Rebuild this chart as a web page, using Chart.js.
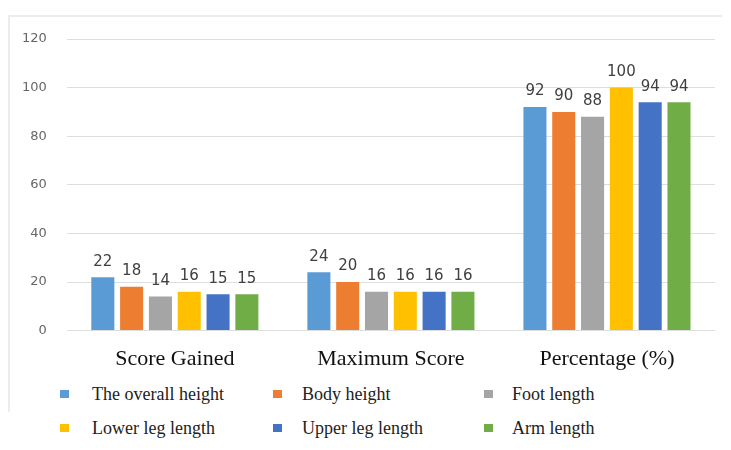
<!DOCTYPE html>
<html lang="en">

<head>
    <meta charset="UTF-8">
    <title>Score chart</title>
    <script src="https://cdn.jsdelivr.net/npm/chart.js"></script>
    <style>
        body {
            margin: 0;
            padding: 0;
            background-color: white;
            width: 731px;
            height: 450px;
            position: relative;
            overflow: hidden;
        }

        .frame {
            position: absolute;
            left: 8px;
            top: 15px;
            width: 712px;
            height: 395px;
            border-top: 2px solid #ececec;
            border-left: 2px solid #ececec;
        }

        .chart {
            position: absolute;
            left: 0;
            top: 0;
            width: 731px;
            height: 379px;
        }

        #legend {
            position: absolute;
            left: 0;
            top: 383px;
            width: 731px;
            font-family: "Liberation Serif", serif;
            font-size: 18px;
            line-height: 22px;
            color: #222;
        }

        #legend .item {
            position: absolute;
            display: flex;
            align-items: center;
            white-space: nowrap;
        }

        #legend .box {
            width: 9px;
            height: 8px;
        }

        #legend .txt {
            position: absolute;
            white-space: nowrap;
        }
    </style>
</head>

<body>
    <div class="frame"></div>
    <div class="chart"><canvas id="myChart"></canvas></div>
    <div id="legend"></div>

    <script>
        // data
        const categories = ['Score Gained', 'Maximum Score', 'Percentage (%)'];
        const seriesNames = ['The overall height', 'Body height', 'Foot length',
            'Lower leg length', 'Upper leg length', 'Arm length'];
        const overallHeight = [22, 24, 92];
        const bodyHeight = [18, 20, 90];
        const footLength = [14, 16, 88];
        const lowerLeg = [16, 16, 100];
        const upperLeg = [15, 16, 94];
        const armLength = [15, 16, 94];
        const yTicks = [0, 20, 40, 60, 80, 100, 120];

        const colors = ['#5B9BD5', '#ED7D31', '#A5A5A5', '#FFC000', '#4472C4', '#70AD47'];
        const allSeries = [overallHeight, bodyHeight, footLength, lowerLeg, upperLeg, armLength];

        // draw value above each bar
        const valueLabels = {
            id: 'valueLabels',
            afterDatasetsDraw(chart) {
                const ctx = chart.ctx;
                ctx.save();
                ctx.font = '15px "DejaVu Sans", sans-serif';
                ctx.fillStyle = '#404040';
                ctx.textAlign = 'center';
                ctx.textBaseline = 'bottom';
                chart.data.datasets.forEach((ds, i) => {
                    chart.getDatasetMeta(i).data.forEach((bar, j) => {
                        ctx.fillText(ds.data[j], bar.x, bar.y - 8);
                    });
                });
                ctx.restore();
            }
        };

        const ctx = document.getElementById('myChart').getContext('2d');
        const chart = new Chart(ctx, {
            type: 'bar',
            data: {
                labels: categories,
                datasets: seriesNames.map((name, i) => ({
                    label: name,
                    data: allSeries[i],
                    backgroundColor: colors[i],
                    categoryPercentage: 0.8,
                    barPercentage: 0.8
                }))
            },
            options: {
                responsive: true,
                maintainAspectRatio: false,
                animation: false,
                layout: {
                    padding: { left: 2, right: 16, top: 39, bottom: 0 }
                },
                plugins: {
                    legend: { display: false },
                    tooltip: { enabled: false }
                },
                scales: {
                    x: {
                        grid: { display: false },
                        border: { display: false },
                        ticks: {
                            color: '#111',
                            font: { family: '"Liberation Serif", serif', size: 22 },
                            padding: 7
                        }
                    },
                    y: {
                        min: 0,
                        max: 120,
                        afterBuildTicks: axis => {
                            axis.ticks = yTicks.map(v => ({ value: v }));
                        },
                        grid: { color: '#dedede', drawTicks: false },
                        border: { display: false },
                        ticks: {
                            color: '#666',
                            font: { family: '"DejaVu Sans", sans-serif', size: 13 },
                            padding: 20
                        }
                    }
                }
            },
            plugins: [valueLabels]
        });

        // legend in a 3 x 2 grid, like the original
        const boxX = [60, 273, 484];
        const textX = [92, 302, 512];
        const rowY = [0, 34];
        const legend = document.getElementById('legend');
        chart.data.datasets.forEach((ds, i) => {
            const col = i % 3, row = Math.floor(i / 3);
            const box = document.createElement('div');
            box.className = 'item box';
            box.style.left = boxX[col] + 'px';
            box.style.top = (rowY[row] + 7) + 'px';
            box.style.background = ds.backgroundColor;
            legend.appendChild(box);
            const txt = document.createElement('div');
            txt.className = 'txt';
            txt.style.left = textX[col] + 'px';
            txt.style.top = rowY[row] + 'px';
            txt.textContent = ds.label;
            legend.appendChild(txt);
        });
    </script>
</body>

</html>
